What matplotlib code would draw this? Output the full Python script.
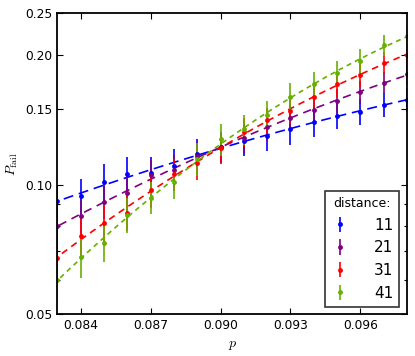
import numpy as np
import matplotlib
matplotlib.use("Agg")
import matplotlib.pyplot as plt
from matplotlib.ticker import FormatStrFormatter, NullFormatter, FixedLocator, LogLocator

plt.rcParams['mathtext.fontset'] = 'cm'
plt.rcParams['xtick.direction'] = 'in'
plt.rcParams['ytick.direction'] = 'in'
plt.rcParams['xtick.top'] = True
plt.rcParams['ytick.right'] = True

# physical error rate
p = [0.083, 0.084, 0.085, 0.086, 0.087, 0.088, 0.089, 0.090,
     0.091, 0.092, 0.093, 0.094, 0.095, 0.096, 0.097, 0.098]

distances = [11, 21, 31, 41]
colors = ['#0000ff', '#800080', '#ff0000', '#66b000']
dash_styles = [(6, 3.5), (5, 3.5), (4, 3), (3, 2.5)]

# failure probabilities
pfail_11 = [0.0916, 0.0943, 0.1014, 0.1058, 0.1062, 0.1107, 0.1178, 0.1225,
            0.1263, 0.1297, 0.1346, 0.1401, 0.1446, 0.1477, 0.1532, 0.1573]
pfail_21 = [0.0803, 0.0846, 0.0912, 0.0958, 0.1053, 0.1082, 0.1167, 0.1220,
            0.1281, 0.1360, 0.1431, 0.1494, 0.1566, 0.1641, 0.1721, 0.1807]
pfail_31 = [0.0675, 0.0761, 0.0813, 0.0860, 0.0972, 0.1058, 0.1124, 0.1218,
            0.1324, 0.1409, 0.1484, 0.1595, 0.1710, 0.1797, 0.1919, 0.2000]
pfail_41 = [0.0601, 0.0678, 0.0733, 0.0851, 0.0933, 0.1015, 0.1147, 0.1274,
            0.1343, 0.1453, 0.1600, 0.1710, 0.1820, 0.1940, 0.2110, 0.2208]

err_11 = [0.008, 0.009, 0.010, 0.010, 0.010, 0.010, 0.010, 0.010,
          0.010, 0.010, 0.011, 0.011, 0.010, 0.010, 0.010, 0.010]
err_21 = [0.007, 0.008, 0.008, 0.009, 0.009, 0.009, 0.009, 0.010,
          0.010, 0.010, 0.010, 0.010, 0.010, 0.010, 0.010, 0.010]
err_31 = [0.007, 0.008, 0.008, 0.008, 0.009, 0.009, 0.010, 0.010,
          0.010, 0.010, 0.010, 0.010, 0.011, 0.011, 0.011, 0.011]
err_41 = [0.006, 0.007, 0.007, 0.008, 0.008, 0.009, 0.010, 0.011,
          0.011, 0.011, 0.012, 0.012, 0.012, 0.012, 0.012, 0.012]

pfails = [pfail_11, pfail_21, pfail_31, pfail_41]
errs = [err_11, err_21, err_31, err_41]

fig = plt.figure(figsize=(4.15, 3.56), dpi=100)
ax = fig.add_axes([0.138, 0.117, 0.843, 0.846])

x = np.array(p)
xfit = np.linspace(0.082, 0.099, 100)
for d, col, ds, y, e in zip(distances, colors, dash_styles, pfails, errs):
    y = np.array(y)
    # smooth fit in log space
    coef = np.polyfit(x, np.log10(y), 2)
    ax.plot(xfit, 10 ** np.polyval(coef, xfit), color=col, lw=1.2, dashes=ds)
    eb = ax.errorbar(x, y, yerr=e, fmt='o', color=col, ecolor=col, ms=3.5,
                     mew=0, elinewidth=1.2, capsize=3.5, capthick=2, label=str(d))
    for cap in eb[1]:
        cap.set_alpha(0.45)

ax.set_yscale('log')
ax.set_xlim(0.083, 0.098)
ax.set_ylim(0.05, 0.25)
ax.xaxis.set_major_locator(FixedLocator([0.084, 0.087, 0.090, 0.093, 0.096]))
ax.xaxis.set_major_formatter(FormatStrFormatter('%.3f'))
ax.yaxis.set_major_locator(FixedLocator([0.05, 0.10, 0.15, 0.20, 0.25]))
ax.yaxis.set_major_formatter(FormatStrFormatter('%.2f'))
ax.yaxis.set_minor_locator(LogLocator(subs=np.arange(2, 10)))
ax.yaxis.set_minor_formatter(NullFormatter())
ax.tick_params(which='major', length=4, width=0.8, labelsize=8.8)
ax.tick_params(which='minor', length=2.5, width=0.8)
for s in ax.spines.values():
    s.set_linewidth(1.3)

ax.set_xlabel(r'$p$', fontsize=10)
ax.set_ylabel(r'$P_{\rm fail}$', fontsize=10)

leg = ax.legend(loc='lower right', title='distance:', fontsize=11,
                title_fontsize=9, numpoints=1, handlelength=1.2,
                handletextpad=1.6, fancybox=False, borderaxespad=0.5)
leg.get_frame().set_edgecolor('black')
leg.get_frame().set_linewidth(1.2)
for t in leg.get_texts():
    t.set_ha('right')

fig.savefig('out.png', dpi=100)
